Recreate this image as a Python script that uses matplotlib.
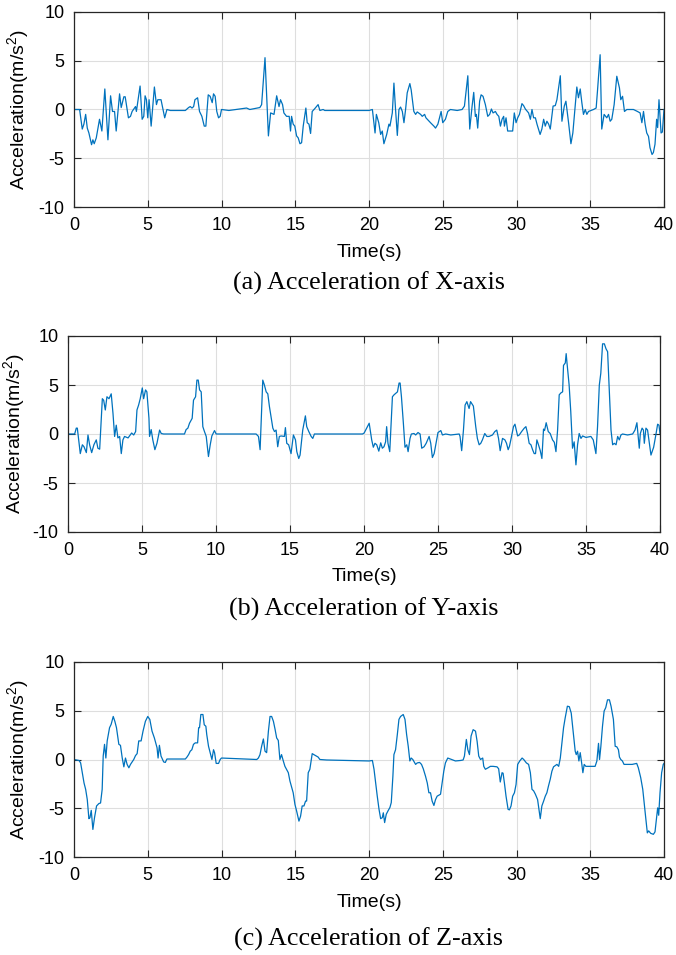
import matplotlib
matplotlib.use("Agg")
import matplotlib.pyplot as plt

plt.rcParams['font.family'] = ['Liberation Sans', 'DejaVu Sans']
plt.rcParams['axes.unicode_minus'] = False
plt.rcParams['mathtext.fontset'] = 'custom'
plt.rcParams['mathtext.rm'] = 'Liberation Sans'
plt.rcParams['mathtext.it'] = 'Liberation Sans'

# (time s, acceleration m/s^2)
x_accel = [
    (0, 0), (0.38, 0), (0.56, -2.0), (0.67, -1.5), (0.79, -0.5), (0.9, -1.9), (1.01, -2.4), (1.19, -3.6),
    (1.28, -3.1), (1.37, -3.5), (1.51, -2.9), (1.73, -1.0), (1.89, -2.2), (2.09, 2.1), (2.3, -3.1),
    (2.48, 1.4), (2.61, -0.2), (2.75, -0.2), (2.86, -2.2), (3.09, 1.6), (3.2, 0.2), (3.38, 1.3),
    (3.47, 1.3), (3.69, -0.85), (3.83, -0.7), (3.94, -0.2), (4.17, 0.3), (4.23, -0.2), (4.48, 2.4),
    (4.62, -1.0), (4.73, -0.7), (4.82, 1.4), (4.91, 1.0), (5.0, -0.85), (5.09, 1.0), (5.23, -1.7),
    (5.45, 2.3), (5.59, 0.5), (5.68, 1.0), (5.9, 1.0), (6.15, -0.85), (6.3, 0), (6.53, -0.1),
    (7.55, -0.1), (7.77, 0.2), (7.88, 0.3), (8.0, 0.15), (8.11, 0.3), (8.2, 1.0), (8.38, 1.2),
    (8.51, -0.2), (8.67, -0.7), (8.83, -1.7), (8.94, -1.7), (9.1, 1.5), (9.23, 1.35), (9.37, 0.7),
    (9.46, 1.6), (9.57, 1.35), (9.68, -0.2), (9.8, -0.85), (9.91, -0.7), (10.0, 0), (10.5, -0.1),
    (11.7, 0.15), (11.92, 0), (12.6, 0.2), (12.72, 0.5), (12.95, 5.3), (13.18, -2.7), (13.33, -0.35),
    (13.56, -0.5), (13.74, 1.4), (13.9, 0.3), (14.0, 1.0), (14.14, 0.5), (14.23, -0.35), (14.41, -0.7),
    (14.59, -0.7), (14.68, -2.2), (14.75, -0.7), (14.86, -1.5), (14.97, -1.7), (15.09, -2.7),
    (15.2, -2.9), (15.32, -3.5), (15.43, -3.4), (15.54, -1.7), (15.72, 0.15), (15.81, -1.35),
    (15.93, -1.5), (16.04, -2.45), (16.15, -0.2), (16.33, 0.1), (16.55, 0.5), (16.67, -0.1),
    (16.89, 0), (17.0, -0.1), (20.0, -0.1),
    (20.23, 0), (20.41, -2.4), (20.5, -0.5), (20.66, -1.35), (20.79, -2.55), (20.9, -2.2), (21.01, -3.5),
    (21.2, -2.55), (21.35, -1.5), (21.42, -1.7), (21.58, -0.35), (21.69, 2.7), (21.8, 0), (21.92, -2.65),
    (22.03, 0), (22.14, 0.25), (22.26, -0.2), (22.37, -1.35), (22.48, 0), (22.59, 1.7), (22.77, 2.65),
    (22.86, 2.0), (23.04, -0.2), (23.16, -0.5), (23.27, -0.25), (23.5, -0.5), (23.61, -0.7),
    (23.77, -0.5), (23.86, -0.85), (24.17, -1.35), (24.4, -1.7), (24.51, -1.9), (24.67, -1.5),
    (24.89, -0.2), (25.0, -1.35), (25.18, -1.0), (25.34, -0.2), (25.52, 0), (25.98, -0.1), (26.31, 0),
    (26.47, 0.35), (26.7, 3.45), (26.83, -2.0), (26.99, 0.35), (27.1, 1.75), (27.21, -0.7),
    (27.28, -0.5), (27.37, -1.9), (27.5, 0.85), (27.6, 1.5), (27.73, 1.35), (27.89, 0.5), (28.05, -0.7),
    (28.18, -0.5), (28.3, 0.05), (28.41, -0.35), (28.57, -0.2), (28.68, -0.5), (28.8, -0.7),
    (28.91, -1.7), (29.02, -1.0), (29.13, -0.7), (29.18, -1.7), (29.29, -0.85), (29.4, -2.2),
    (29.74, -2.2), (29.85, -0.35), (29.97, -1.35), (30.08, -0.85), (30.2, -0.5), (30.37, 0.6),
    (30.48, 0.4), (30.6, 0.05), (30.82, -0.35), (30.94, -1.0), (31.05, 0), (31.16, -0.85),
    (31.28, -0.85), (31.39, -1.5), (31.6, -2.55), (31.72, -2.0), (31.84, -1.0), (31.95, -1.7),
    (32.06, -1.2), (32.18, -1.5), (32.29, -2.0), (32.48, 0.35), (32.63, 0.4), (32.74, 1.0),
    (32.97, 3.45), (33.08, -1.2), (33.24, 0.35), (33.35, 0.85), (33.53, -1.35), (33.69, -3.5),
    (33.82, -2.4), (33.94, -0.35), (34.09, 2.3), (34.2, 1.2), (34.32, 2.1), (34.43, 0.7), (34.54, -0.5),
    (34.66, 0), (34.77, -0.5), (34.88, -0.2), (35.22, 0), (35.4, 0.15), (35.49, 1.9), (35.67, 5.6),
    (35.78, -2.0), (35.94, -0.5), (36.12, -0.85), (36.24, -0.5), (36.35, -1.2), (36.46, -1.0),
    (36.62, 0.5), (36.8, 3.4), (36.98, 2.2), (37.07, 1.0), (37.19, 1.35), (37.32, -0.2), (37.48, 0),
    (37.93, 0), (38.2, -0.2), (38.38, -0.35), (38.5, -1.35), (38.61, -0.2), (38.72, -1.5), (38.83, -2.4),
    (38.95, -2.75), (39.05, -3.9), (39.19, -4.6), (39.28, -4.4), (39.39, -3.55), (39.5, -1.0),
    (39.57, -1.85), (39.66, 1.0), (39.8, -2.4), (39.89, -2.3), (40.0, 0),
]

y_accel = [
    (0, 0), (0.45, 0), (0.56, 0.6), (0.63, 0.6), (0.83, -2.0), (0.97, -1.1), (1.08, -1.3), (1.24, -1.9),
    (1.35, -0.1), (1.46, -1.1), (1.6, -1.9), (1.75, -1.1), (1.91, -0.6), (2.02, -1.45), (2.14, -1.55),
    (2.32, 3.6), (2.41, 3.45), (2.52, 2.45), (2.63, 3.8), (2.77, 3.6), (2.92, 4.1), (3.04, 2.1),
    (3.15, -0.25), (3.26, 0.9), (3.37, -0.4), (3.49, -0.25), (3.6, -2.0), (3.71, -0.6), (3.82, -0.25),
    (4.06, -0.4), (4.3, 0.1), (4.44, -0.1), (4.57, 0.25), (4.66, 2.45), (4.77, 2.95), (4.88, 3.6),
    (5.02, 4.7), (5.11, 3.6), (5.24, 4.5), (5.33, 4.3), (5.47, 1.6), (5.51, -0.25), (5.62, 0.45),
    (5.73, -0.6), (5.87, -1.6), (6.01, -0.95), (6.19, 0.4), (6.3, 0.05), (6.46, 0), (7.87, 0),
    (7.98, 0.45), (8.1, 0.6), (8.21, 1.1), (8.39, 1.6), (8.48, 3.45), (8.62, 3.8), (8.71, 5.5),
    (8.8, 5.5), (8.89, 4.5), (9.0, 4.3), (9.11, 0.75), (9.22, 0.25), (9.34, -0.25), (9.49, -2.3),
    (9.61, -1.1), (9.72, -0.2), (9.9, 0.35), (10.01, 0), (12.71, 0), (12.87, -0.25), (12.98, -1.6),
    (13.16, 5.5), (13.27, 5.0), (13.39, 4.3), (13.5, 4.1), (13.61, 2.8), (13.84, 0.6), (13.95, 0.25),
    (14.06, 0.4), (14.17, -1.3), (14.28, -0.25), (14.4, -0.2), (14.62, -0.25), (14.69, 0.65),
    (14.78, -0.95), (14.91, -1.1), (15.07, -2.0), (15.23, -0.1), (15.37, -0.6), (15.46, -1.8),
    (15.59, -2.5), (15.68, -2.15), (15.86, 0.4), (16.04, 1.85), (16.13, 0.75), (16.27, 0.25),
    (16.43, -0.25), (16.54, -0.45), (16.65, 0), (19.9, 0), (20.01, 0.1),
    (20.35, 1.1), (20.52, -0.6), (20.63, -1.35), (20.74, -0.95), (20.86, -1.1), (21.0, -1.75),
    (21.13, -0.9), (21.24, -1.45), (21.35, -1.3), (21.46, -0.8), (21.53, 0.75), (21.62, -0.95),
    (21.74, -1.8), (21.92, 3.8), (22.03, 4.0), (22.14, 4.15), (22.26, 4.3), (22.37, 5.2), (22.44, 5.2),
    (22.53, 3.8), (22.66, 1.1), (22.77, -1.35), (22.89, -1.1), (22.98, -1.8), (23.11, -0.45), (23.2, 0),
    (23.38, 0.05), (23.49, -0.1), (23.65, 0.15), (23.79, 0), (23.9, -1.45), (24.06, -1.3),
    (24.2, -0.95), (24.4, -0.25), (24.51, -0.95), (24.62, -2.4), (24.74, -2.0), (24.85, -1.1),
    (25.0, 0.15), (25.19, 0.35), (25.3, -0.1), (25.52, 0), (25.86, -0.1), (26.43, 0), (26.49, -0.25),
    (26.6, -1.7), (26.72, 0.4), (26.83, 2.95), (26.95, 3.3), (27.1, 2.6), (27.2, 3.3), (27.39, 2.85),
    (27.55, 0.75), (27.66, -0.45), (27.78, -1.1), (27.89, -0.95), (28.0, -0.6), (28.16, 0.05),
    (28.3, -0.25), (28.45, -0.25), (28.68, -0.1), (28.84, 0.25), (28.97, 0.4), (29.09, -0.45),
    (29.2, -1.7), (29.36, -0.45), (29.52, -0.6), (29.63, -0.95), (29.74, -1.6), (29.83, -1.25),
    (29.92, -0.6), (30.03, 0.25), (30.1, 0.75), (30.2, 1.0), (30.29, 0.4), (30.38, -0.2), (30.49, -0.1),
    (30.65, 0.25), (30.83, 0.6), (30.94, 0.75), (31.05, 0.05), (31.16, -0.95), (31.28, -1.1),
    (31.39, -1.6), (31.5, -2.0), (31.59, -2.0), (31.68, -0.6), (31.79, -1.1), (31.91, -1.7),
    (32.02, -2.5), (32.13, 0.5), (32.2, 0.35), (32.31, 1.15), (32.45, 0.25), (32.58, 0.05),
    (32.74, -0.6), (32.86, -0.85), (32.97, -1.8), (33.08, 0.4), (33.19, 4.0), (33.31, 4.2), (33.42, 4.3),
    (33.48, 7.0), (33.6, 7.25), (33.66, 8.2), (33.71, 7.35), (33.86, 5.0), (33.97, 2.3), (34.09, -1.45),
    (34.2, -0.8), (34.32, -3.15), (34.43, -1.1), (34.54, 0.05), (34.66, -0.45), (34.77, -0.2),
    (35.0, -0.35), (35.33, -0.25), (35.49, -0.6), (35.67, -2.0), (35.78, 0.75), (35.9, 5.0), (36.0, 6.2),
    (36.12, 9.2), (36.24, 9.2), (36.35, 8.7), (36.46, 8.4), (36.57, 4.5), (36.69, 0.4), (36.8, -1.1),
    (36.91, -0.95), (37.03, -1.1), (37.14, -0.25), (37.25, -0.6), (37.36, -0.1), (37.47, 0),
    (37.81, -0.1), (38.15, 0), (38.31, 0.4), (38.44, 1.15), (38.53, -0.25), (38.6, -1.45), (38.67, 0.05),
    (38.79, 0.6), (38.88, 0.4), (38.94, -0.95), (39.05, 0.6), (39.16, 0.4), (39.28, -0.95),
    (39.39, -2.15), (39.57, -1.35), (39.73, 0), (39.84, 1.0), (39.93, 0.9), (40.0, 0.05),
]

z_accel = [
    (0, 0), (0.34, -0.1), (0.45, -0.35), (0.56, -1.35), (0.68, -2.4), (0.79, -3.05), (0.9, -4.1),
    (1.01, -6.05), (1.08, -5.95), (1.17, -5.2), (1.28, -7.15), (1.39, -5.95), (1.53, -4.75), (1.69, -4.5),
    (1.8, -4.45), (1.91, -3.05), (1.98, 0.35), (2.07, 1.55), (2.16, 0.15), (2.25, 1.9), (2.41, 3.25),
    (2.52, 3.6), (2.66, 4.4), (2.77, 3.9), (2.88, 3.25), (3.04, 1.55), (3.15, 1.45), (3.27, 0.15),
    (3.38, -0.75), (3.49, 0.15), (3.6, -0.5), (3.72, -0.85), (3.83, -0.5), (3.94, -0.25), (4.05, 0),
    (4.17, 0.4), (4.28, 0.6), (4.39, 1.9), (4.55, 1.9), (4.68, 2.9), (4.84, 3.9), (5.0, 4.4), (5.14, 4.1),
    (5.29, 2.9), (5.45, 2.2), (5.63, 1.2), (5.7, 0.15), (5.79, 1.45), (5.9, 0.35), (6.08, -0.25),
    (6.19, -0.3), (6.3, 0.05), (7.55, 0.05), (7.66, 0.25), (7.77, 0.5), (7.88, 0.85), (7.99, 1.0),
    (8.1, 1.55), (8.22, 1.7), (8.38, 1.7), (8.45, 3.25), (8.51, 3.25), (8.6, 4.6), (8.74, 4.6),
    (8.83, 3.55), (8.94, 3.4), (9.0, 2.55), (9.12, 1.35), (9.23, 0.7), (9.35, 0), (9.46, 1.0),
    (9.53, 0.7), (9.64, -0.4), (9.8, -0.4), (9.91, 0), (10.0, 0.15), (12.39, 0), (12.5, 0.15),
    (12.61, 0.5), (12.72, 1.35), (12.84, 2.1), (12.95, 0.85), (13.06, 0.7), (13.18, 2.9), (13.29, 4.4),
    (13.4, 4.4), (13.52, 3.9), (13.63, 3.1), (13.74, 2.2), (13.85, 1.95), (13.96, 0), (14.07, 0.5),
    (14.19, -0.15), (14.3, -0.7), (14.41, -1.0), (14.53, -1.35), (14.64, -2.2), (14.86, -3.4),
    (14.98, -4.6), (15.09, -5.25), (15.25, -6.3), (15.36, -5.8), (15.47, -4.75), (15.59, -4.75),
    (15.7, -4.25), (15.77, -4.25), (15.88, -1.35), (15.99, -1.0), (16.15, 0.6), (16.26, 0.5),
    (16.44, 0.35), (16.55, 0.25), (16.67, 0), (17.12, -0.05), (20.0, -0.15),
    (20.23, -0.1), (20.34, -1.0), (20.45, -2.4), (20.56, -3.75), (20.68, -5.1), (20.79, -6.05),
    (20.9, -5.95), (20.97, -5.45), (21.06, -6.45), (21.17, -5.6), (21.29, -5.25), (21.42, -4.9),
    (21.51, -4.4), (21.62, -1.7), (21.69, 0.5), (21.8, 1.0), (21.92, 2.55), (22.03, 4.1), (22.14, 4.4),
    (22.32, 4.6), (22.44, 4.1), (22.55, 2.55), (22.66, 1.35), (22.77, -0.15), (22.86, 0.15), (22.97, 0),
    (23.16, -0.5), (23.27, -0.35), (23.43, -0.3), (23.56, -0.5), (23.68, -0.95), (23.83, -1.7),
    (23.95, -2.4), (24.06, -3.4), (24.17, -3.4), (24.28, -4.25), (24.4, -4.7), (24.51, -4.1),
    (24.62, -3.75), (24.85, -3.55), (24.96, -2.4), (25.07, -1.2), (25.18, -0.35), (25.34, 0.15),
    (25.52, 0.05), (25.86, -0.15), (26.2, -0.1), (26.38, -0.05), (26.47, 0.35), (26.6, 2.05), (26.7, 1.0),
    (26.81, 0.5), (26.92, 2.4), (27.06, 3.05), (27.22, 2.9), (27.33, 1.85), (27.44, 0.35), (27.56, 0),
    (27.71, 0.15), (27.78, -0.7), (27.89, -1.0), (28.07, -0.85), (28.23, -0.7), (28.41, -0.7),
    (28.68, -0.75), (28.79, -0.95), (28.9, -2.3), (29.02, -1.35), (29.09, -1.4), (29.18, -2.4),
    (29.29, -3.75), (29.43, -5.1), (29.52, -5.15), (29.63, -4.75), (29.74, -3.75), (29.86, -3.4),
    (29.97, -2.55), (30.08, -0.5), (30.22, -0.15), (30.38, 0.15), (30.49, 0), (30.67, -0.35),
    (30.82, -0.5), (30.94, -1.35), (31.05, -3.05), (31.16, -3.2), (31.28, -3.55), (31.43, -4.1),
    (31.61, -6.05), (31.72, -4.75), (31.84, -4.25), (31.95, -3.75), (32.06, -3.4), (32.17, -2.7),
    (32.29, -2.0), (32.4, -1.2), (32.51, -0.75), (32.74, -0.5), (32.86, -0.7), (32.97, 0.15),
    (33.08, 1.7), (33.19, 3.25), (33.3, 4.25), (33.45, 5.45), (33.58, 5.4), (33.71, 4.75), (33.86, 2.55),
    (33.98, 0.85), (34.05, 0.5), (34.14, 0.85), (34.23, -0.15), (34.32, 0.7), (34.43, -0.5),
    (34.5, -1.35), (34.59, -0.5), (34.7, -0.7), (35.0, -0.7), (35.33, -0.7), (35.45, -0.15),
    (35.56, 1.65), (35.63, 0), (35.72, 1.35), (35.83, 3.4), (35.94, 4.95), (36.05, 5.3), (36.17, 6.1),
    (36.3, 6.1), (36.41, 5.45), (36.57, 4.1), (36.69, 1.35), (36.8, 1.3), (36.91, 1.0), (36.98, 0.25),
    (37.07, 0), (37.18, -0.15), (37.29, -0.5), (37.61, -0.5), (37.84, -0.5), (38.15, -0.4),
    (38.26, -0.85), (38.42, -1.85), (38.56, -3.05), (38.65, -4.4), (38.76, -5.95), (38.87, -7.5),
    (38.96, -7.3), (39.1, -7.55), (39.28, -7.65), (39.39, -7.4), (39.46, -6.45), (39.57, -4.95),
    (39.64, -5.7), (39.73, -3.4), (39.84, -1.35), (39.95, -0.5), (40.0, -0.4),
]

captions = ['(a) Acceleration of X-axis', '(b) Acceleration of Y-axis', '(c) Acceleration of Z-axis']
x_ticks = [0, 5, 10, 15, 20, 25, 30, 35, 40]
y_ticks = [-10, -5, 0, 5, 10]

W, H = 676, 955
fig = plt.figure(figsize=(W / 100, H / 100), dpi=100)

# axes boxes in pixels: left, top, right, bottom
boxes = [(74, 11.7, 664, 207.3), (68, 336, 660, 532), (74, 661.7, 664, 857.3)]
caption_y = [283, 609, 939]
ylabel_right = [31, 27, 31]

for series, cap, (l, tp, r, b), cy, yx in zip([x_accel, y_accel, z_accel], captions,
                                              boxes, caption_y, ylabel_right):
    t, v = zip(*series)
    ax = fig.add_axes([l / W, 1 - b / H, (r - l) / W, (b - tp) / H])
    ax.plot(t, v, color='#0072BD', linewidth=0.9)
    ax.set_xlim(0, 40)
    ax.set_ylim(-10, 10)
    ax.set_xticks(x_ticks)
    ax.set_yticks(y_ticks)
    ax.grid(True, color='#DEDEDE', linewidth=0.8)
    ax.set_axisbelow(True)
    ax.tick_params(direction='in', length=5, width=0.8, top=True, right=True,
                   labelsize=13, pad=7, colors='#262626', labelcolor='black')
    for s in ax.spines.values():
        s.set_color('#262626')
        s.set_linewidth(0.9)
    ax.set_xlabel('Time(s)', fontsize=14, labelpad=7)
    ax.set_ylabel('Acceleration(m/s$^2$)', fontsize=14)
    ax.yaxis.set_label_coords((yx - l) / (r - l), 0.5)
    fig.text((l + r) / 2 / W, 1 - cy / H, cap, ha='center', va='center',
             fontsize=18.8, family=['Liberation Serif', 'DejaVu Serif'])

fig.savefig('out.png', dpi=100)
